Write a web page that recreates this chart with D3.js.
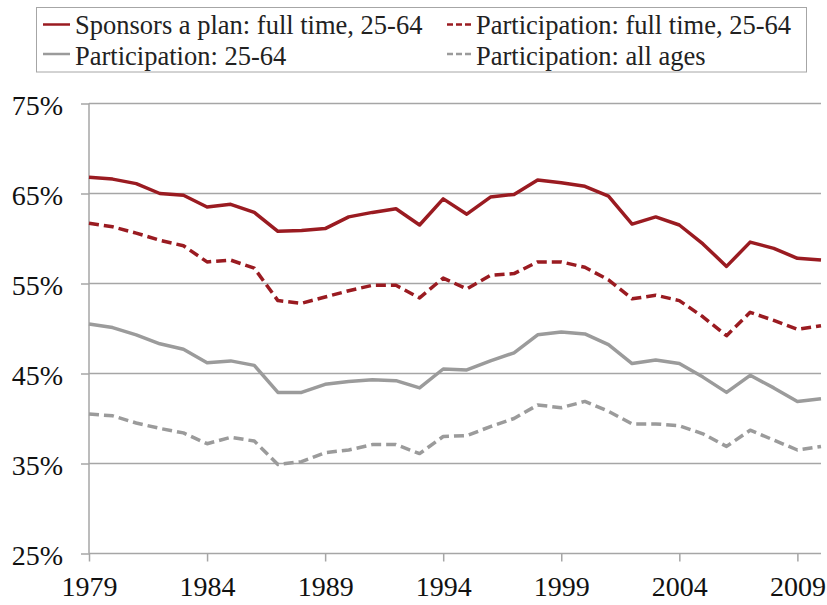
<!DOCTYPE html>
<html>
<head>
<meta charset="utf-8">
<script src="https://cdn.jsdelivr.net/npm/d3@7"></script>
<style>
  html, body { margin: 0; padding: 0; background: #fff; }
  svg { display: block; }
</style>
</head>
<body>
<svg id="chart" width="827" height="605"></svg>
<script>
const years = d3.range(1979, 2011);
const seriesNames = [
  "Sponsors a plan: full time, 25-64",
  "Participation: full time, 25-64",
  "Participation: 25-64",
  "Participation: all ages"
];
const sponsorsFullTime = [66.8,66.6,66.1,65.0,64.8,63.5,63.8,62.9,60.8,60.9,61.1,62.4,62.9,63.3,61.5,64.4,62.7,64.6,64.9,66.5,66.2,65.8,64.7,61.6,62.4,61.5,59.4,56.9,59.6,58.9,57.8,57.6];
const partFullTime = [61.7,61.3,60.6,59.8,59.2,57.4,57.6,56.7,53.1,52.8,53.5,54.2,54.8,54.8,53.4,55.6,54.4,55.9,56.1,57.4,57.4,56.8,55.4,53.3,53.7,53.1,51.3,49.2,51.8,50.9,49.9,50.3];
const part2564 = [50.5,50.1,49.3,48.3,47.7,46.2,46.4,45.9,42.9,42.9,43.8,44.1,44.3,44.2,43.4,45.5,45.4,46.4,47.3,49.3,49.6,49.4,48.2,46.1,46.5,46.1,44.6,42.9,44.8,43.4,41.9,42.2];
const partAllAges = [40.5,40.3,39.5,38.9,38.4,37.2,37.9,37.5,34.9,35.2,36.2,36.5,37.1,37.1,36.1,38.0,38.1,39.1,40.0,41.5,41.2,41.9,40.8,39.4,39.4,39.2,38.3,36.9,38.7,37.6,36.5,36.9];
const yTicks = [25, 35, 45, 55, 65, 75];
const xTicks = [1979, 1984, 1989, 1994, 1999, 2004, 2009];

const RED = "#9a1b21", GRAY = "#9b9b9b", GRID = "#a6a6a6";
const FONT = "Liberation Serif";
const styles = [
  {color: RED, dash: null},
  {color: RED, dash: "10,5"},
  {color: GRAY, dash: null},
  {color: GRAY, dash: "10,5"}
];
const allSeries = [sponsorsFullTime, partFullTime, part2564, partAllAges];

const svg = d3.select("#chart");
const mLeft = 89, mRight = 821, mTop = 103.5, mBottom = 553.5;
const x = d3.scaleLinear().domain([1979, 2010]).range([mLeft, mRight]);
const y = d3.scaleLinear().domain([25, 75]).range([mBottom, mTop]);

// gridlines
svg.append("g").selectAll("line").data(yTicks.filter(d => d !== 25)).join("line")
  .attr("x1", mLeft).attr("x2", mRight)
  .attr("y1", d => y(d)).attr("y2", d => y(d))
  .attr("stroke", GRID).attr("stroke-width", 1.5);

// y axis
const yAxis = svg.append("g").attr("transform", `translate(${mLeft},0)`)
  .call(d3.axisLeft(y).tickValues(yTicks).tickSize(8).tickPadding(18).tickFormat(d => d + "%"))
  .attr("font-family", FONT).attr("font-size", 28);
yAxis.select(".domain").attr("stroke", GRID).attr("stroke-width", 1.5).attr("d", `M0,${mTop}V${mBottom}`);
yAxis.selectAll(".tick line").attr("stroke", GRID).attr("stroke-width", 1.5);
yAxis.selectAll(".tick text").attr("font-family", FONT).attr("font-size", 28).attr("fill", "#111").attr("dy", "0.41em");

// x axis
const xAxis = svg.append("g").attr("transform", `translate(0,${mBottom})`)
  .call(d3.axisBottom(x).tickValues(xTicks).tickSize(8).tickPadding(16).tickFormat(d3.format("d")))
  .attr("font-family", FONT).attr("font-size", 28);
xAxis.select(".domain").attr("stroke", GRID).attr("stroke-width", 1.5).attr("d", `M${mLeft},0H${mRight}`);
xAxis.selectAll(".tick line").attr("stroke", GRID).attr("stroke-width", 1.5);
xAxis.selectAll(".tick text").attr("font-family", FONT).attr("font-size", 28).attr("fill", "#111").attr("dy", "0.66em");

// lines
const line = d3.line().x((d, i) => x(years[i])).y(d => y(d));
svg.append("g").selectAll("path").data(allSeries).join("path")
  .attr("d", d => line(d))
  .attr("fill", "none")
  .attr("stroke", (d, i) => styles[i].color)
  .attr("stroke-width", 3.5)
  .attr("stroke-linejoin", "round")
  .attr("stroke-dasharray", (d, i) => styles[i].dash);

// legend
const lg = svg.append("g");
lg.append("rect").attr("x", 36.5).attr("y", 7.5).attr("width", 770).attr("height", 64.5)
  .attr("fill", "#fff").attr("stroke", "#a6a6a6").attr("stroke-width", 1);
const legendPos = [
  {sx: 43, tx: 75, ly: 24.5, ty: 33.5},
  {sx: 447, tx: 476, ly: 24.5, ty: 33.5},
  {sx: 43, tx: 75, ly: 54, ty: 65},
  {sx: 447, tx: 476, ly: 54, ty: 65}
];
seriesNames.forEach((name, i) => {
  const p = legendPos[i];
  lg.append("line").attr("x1", p.sx).attr("x2", p.sx + 27).attr("y1", p.ly).attr("y2", p.ly)
    .attr("stroke", styles[i].color).attr("stroke-width", 2.5)
    .attr("stroke-dasharray", styles[i].dash ? "6,3" : null);
  lg.append("text").attr("x", p.tx).attr("y", p.ty)
    .attr("font-family", FONT).attr("font-size", 26.5).attr("fill", "#222").text(name);
});
</script>
</body>
</html>
